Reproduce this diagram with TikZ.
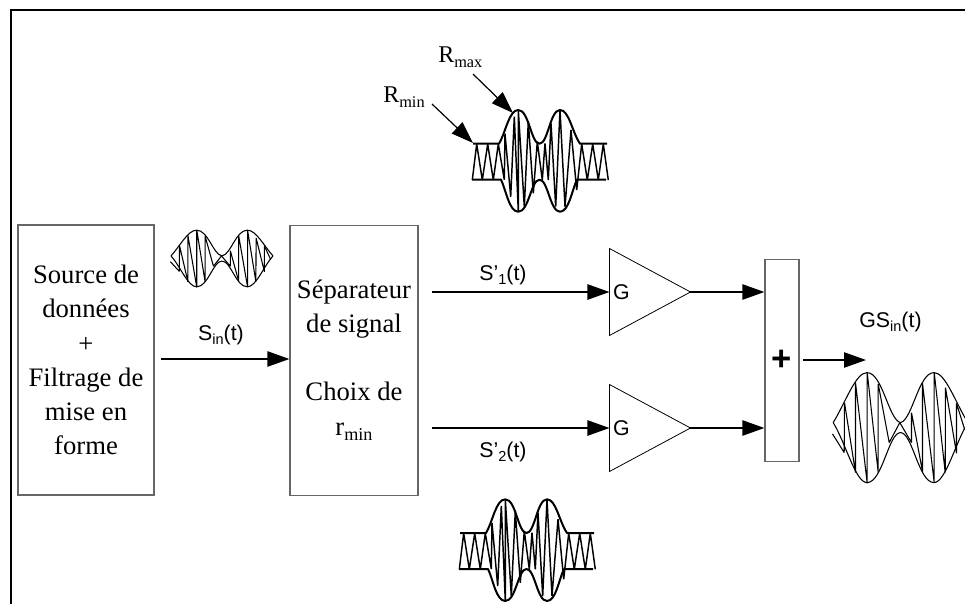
\documentclass[tikz,border=0pt]{standalone}
\usepackage{fontspec}
\setmainfont{Liberation Serif}
\setsansfont{Liberation Sans}
\usetikzlibrary{arrows.meta,shapes.geometric}

\newcommand{\lowidx}[1]{\raisebox{-.22em}{\scalebox{.68}{#1}}}

\tikzset{
  blockbox/.style={draw=black!60, line width=.9pt, inner sep=0pt, align=center,
    font=\fontsize{20}{25.6}\selectfont},
  amp/.style={draw, line width=.6pt, isosceles triangle, isosceles triangle stretches,
    minimum width=65.25pt, minimum height=60.75pt, inner sep=0pt, outer sep=0pt},
  sig/.style={line width=1.1pt, -{Triangle[length=16.5pt,width=11.5pt]}},
  sanslabel/.style={font=\sffamily\fontsize{16}{19}\selectfont, anchor=base, inner sep=0pt},
  serlabel/.style={font=\fontsize{18}{21}\selectfont, anchor=base west, inner sep=0pt},
  pics/bell/.style={code={
    \draw[line width=.8pt, line join=round] (-67.3,-5) .. controls (-55,-25) and (-45,-55) .. (-33.5,-55)
      .. controls (-18,-55) and (-12,-8) .. (0,-5) .. controls (12,-8) and (18,-55) .. (33.5,-55)
      .. controls (45,-55) and (55,-25) .. (67.3,-5);
    \draw[line width=.8pt, line join=round] (-67.3,-5) .. controls (-55,15) and (-45,55) .. (-33.5,55)
      .. controls (-18,55) and (-12,5) .. (0,5) .. controls (12,5) and (18,55) .. (33.5,55)
      .. controls (45,55) and (55,15) .. (67.3,-5);
    \draw[line width=.8pt, line join=bevel] (-68,6.3) -- (-56.3,25) -- (-56,-25) -- (-45,45) -- (-45,-45)
      -- (-33.3,55.7) -- (-33.3,-55.3) -- (-22.3,45) -- (-22.3,-43.7) -- (-11.3,15) -- (-.7,-5)
      -- (11,15) -- (11,-15) -- (22,44) -- (22,-44.3) -- (33.7,55) -- (33.7,-55.3) -- (44.7,45)
      -- (45,-40) -- (56,25.7) -- (56,-24.3) -- (64.3,2.3);
  }},
  pics/burst/.style={code={
    \draw[line width=1.5pt, line join=round] (-66,-18) -- (-40,-18) .. controls (-33,-30) and (-30,-51.7) .. (-20.7,-51.7)
      .. controls (-10,-51.7) and (-8,-18) .. (.5,-18) .. controls (9,-18) and (11,-51.7) .. (21,-51.7)
      .. controls (30,-51.7) and (33,-30) .. (41,-18) -- (68,-18);
    \draw[line width=1.5pt, line join=round] (-67,18) -- (-38,18) .. controls (-33,28) and (-30,50) .. (-20.7,50)
      .. controls (-10,50) and (-8,18) .. (.5,18) .. controls (9,18) and (11,50) .. (21,50)
      .. controls (30,50) and (33,28) .. (38,18) -- (67,18);
    \draw[line width=1.1pt, line join=bevel] (-66.7,18.3) -- (-62.3,-17.7) -- (-56.7,18.3) -- (-51.3,-17.7) -- (-45.7,18.3)
      -- (-40.7,-17.7) -- (-34.7,18) -- (-34,-28) -- (-28.3,35) -- (-24.7,-45) -- (-20.7,50) -- (-20.7,-51.7)
      -- (-14.7,45) -- (-10.7,-40) -- (-5.7,31.7) -- (-1.7,-20) -- (3.3,18.3) -- (6,-18.3) -- (9.3,18.3)
      -- (12,-38.3) -- (16.7,45) -- (21,-51.7) -- (26,45) -- (32,-31.7) -- (37.7,28.3) -- (42.7,-17.7)
      -- (48.3,18.3) -- (53.7,-17.7) -- (59.3,18.3) -- (64.3,-17.7) -- (69.3,18.3);
  }},
}

\begin{document}
\begin{tikzpicture}[x=.75pt,y=-.75pt]

\useasboundingbox (0,0) rectangle (965,604);

\draw[line width=1.5pt] (11,604) -- (11,10) -- (965,10);

% blocks
\node[blockbox, minimum width=102pt, minimum height=202.5pt] at (86,360) (src)
  {Source de\\données\\+\\Filtrage de\\mise en\\forme};
\node[blockbox, minimum width=96pt, minimum height=203pt] at (354,360.5) (sep)
  {Séparateur\\de signal\\[25.6pt]Choix de\\r\lowidx{min}};
\node[amp] at (635.5,292) (g1) {};
\node[amp] at (635.5,428) (g2) {};
\node[sanslabel] at (621.5,299.5) (g1l) {G};
\node[sanslabel] at (621.5,435) (g2l) {G};
\node[draw=black!60, line width=.9pt, minimum width=25.5pt, minimum height=152pt, inner sep=0pt,
  font=\sffamily\bfseries\fontsize{26}{30}\selectfont] at (782,360.5) (sum) {+};

% free ends of the connectors
\coordinate (sinout) at (161,359);
\coordinate (s1out) at (432,292);
\coordinate (s2out) at (432,428);
\coordinate (gsout) at (803,360);
\coordinate (gsend) at (866,360);
\coordinate (rmaxtip) at (513,113);
\coordinate (rmaxend) at (473,74);
\coordinate (rmintip) at (473,143);
\coordinate (rminend) at (432,104);

\draw[sig] (sinout) -- (sinout -| sep.west);
\draw[sig] (s1out) -- (g1.west);
\draw[sig] (s2out) -- (g2.west);
\draw[sig] (g1.apex) -- (g1.apex -| sum.west);
\draw[sig] (g2.apex) -- (g2.apex -| sum.west);
\draw[sig] (gsout) -- (gsend);
\draw[sig, line width=.9pt] (rmaxend) -- (rmaxtip);
\draw[sig, line width=.9pt] (rminend) -- (rmintip);

% labels
\node[sanslabel] at (221,340) (sinl) {S\lowidx{in}(t)};
\node[sanslabel] at (503,280) (s1l) {S’\lowidx{1}(t)};
\node[sanslabel] at (503,457) (s2l) {S’\lowidx{2}(t)};
\node[sanslabel] at (890.5,327) (gsl) {GS\lowidx{in}(t)};
\node[serlabel] at (438,62) (rmaxl) {R\lowidx{max}};
\node[serlabel] at (383,102) (rminl) {R\lowidx{min}};

% waves
\pic[xscale=.758,yscale=.515] at (222,258.5) {bell};
\pic at (900.5,427.6) {bell};
\pic at (539,161.7) {burst};
\pic at (526,551) {burst};

\end{tikzpicture}
\end{document}
